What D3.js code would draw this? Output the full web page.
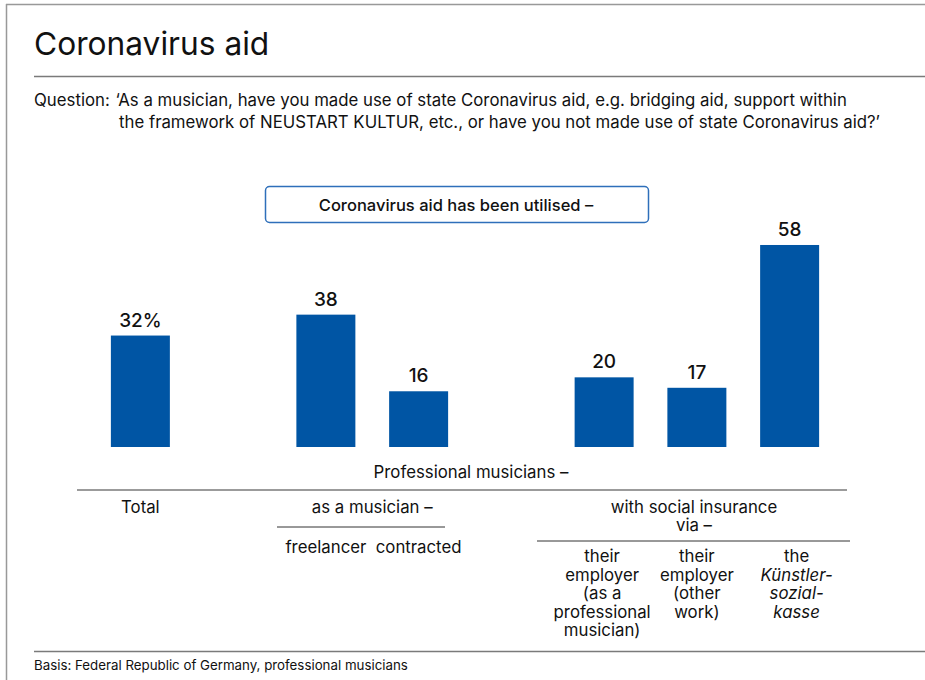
<!DOCTYPE html>
<html>
<head>
<meta charset="utf-8">
<script src="https://cdn.jsdelivr.net/npm/d3@7"></script>
<style>
  html, body { margin: 0; padding: 0; background: #fff; }
  svg { display: block; font-family: Inter, "Liberation Sans", Arial, sans-serif; }
</style>
</head>
<body>
<svg id="chart" width="925" height="680"></svg>
<script>
// ---- data ----
const title = "Coronavirus aid";
const questionLabel = "Question:";
const questionLines = [
  "\u2018As a musician, have you made use of state Coronavirus aid, e.g. bridging aid, support within",
  "the framework of NEUSTART KULTUR, etc., or have you not made use of state Coronavirus aid?\u2019"
];
const legendLabel = "Coronavirus aid has been utilised \u2013";
const categories = ["Total", "freelancer", "contracted", "employerPro", "employerOther", "ksk"];
const slots = [0, 2, 3, 5, 6, 7];
const values = [32, 38, 16, 20, 17, 58];
const valueLabels = ["32%", "38", "16", "20", "17", "58"];
const headerTop = "Professional musicians \u2013";
const groupMusician = "as a musician \u2013";
const groupInsurance = ["with social insurance", "via \u2013"];
const catLabels = [
  ["Total"],
  ["freelancer"],
  ["contracted"],
  ["their", "employer", "(as a", "professional", "musician)"],
  ["their", "employer", "(other", "work)"],
  ["the", "K\u00fcnstler-", "sozial-", "kasse"]
];
const italicFrom = [99, 99, 99, 99, 99, 1];
const footnote = "Basis: Federal Republic of Germany, professional musicians";

// ---- drawing ----
const svg = d3.select("#chart");
const W = 925, H = 680;
const textColor = "#111";
const barColor = "#0055a4";
const ruleColor = "#7a7a7a";
const fs = 16.8;

// frame
svg.append("line").attr("x1", 6).attr("x2", W).attr("y1", 4.5).attr("y2", 4.5)
  .attr("stroke", "#999").attr("stroke-width", 1.5);
svg.append("line").attr("x1", 6.5).attr("x2", 6.5).attr("y1", 4).attr("y2", H)
  .attr("stroke", "#999").attr("stroke-width", 1.5);

// title
svg.append("text").attr("x", 34).attr("y", 55).attr("font-size", 31.7)
  .attr("fill", textColor).text(title);
svg.append("line").attr("x1", 34).attr("x2", W).attr("y1", 76.5).attr("y2", 76.5)
  .attr("stroke", ruleColor).attr("stroke-width", 1.5);

// question
svg.append("text").attr("x", 34).attr("y", 106).attr("font-size", fs)
  .attr("fill", textColor).text(questionLabel);
const q = svg.append("text").attr("font-size", fs).attr("fill", textColor);
questionLines.forEach((l, i) => {
  q.append("tspan").attr("x", i === 0 ? 115.5 : 119).attr("y", 106 + i * 22).text(l);
});

// legend box
svg.append("rect").attr("x", 265.5).attr("y", 186.5).attr("width", 383).attr("height", 36)
  .attr("rx", 4).attr("fill", "#fff").attr("stroke", "#2e6fba").attr("stroke-width", 1.5);
svg.append("text").attr("x", 456).attr("y", 210.5).attr("text-anchor", "middle")
  .attr("font-size", 16.5).attr("font-weight", 500).attr("fill", textColor).text(legendLabel);

// scales
const x = d3.scaleBand().domain(d3.range(8)).range([94, 836])
  .paddingInner(0.364).paddingOuter(0.182);
const y = d3.scaleLinear().domain([0, 100]).range([447, 447 - 348.3]);

const g = svg.append("g");
g.selectAll("rect.bar").data(values).join("rect").attr("class", "bar")
  .attr("x", (d, i) => x(slots[i]))
  .attr("width", x.bandwidth())
  .attr("y", d => y(d))
  .attr("height", d => y(0) - y(d))
  .attr("fill", barColor);

g.selectAll("text.val").data(values).join("text").attr("class", "val")
  .attr("x", (d, i) => x(slots[i]) + x.bandwidth() / 2)
  .attr("y", d => y(d) - 9)
  .attr("text-anchor", "middle").attr("font-size", 19).attr("font-weight", 500)
  .attr("fill", textColor)
  .text((d, i) => valueLabels[i]);

const cx = i => x(slots[i]) + x.bandwidth() / 2;

// header structure
svg.append("text").attr("x", 471).attr("y", 478).attr("text-anchor", "middle")
  .attr("font-size", fs).attr("fill", textColor).text(headerTop);
svg.append("line").attr("x1", 77).attr("x2", 847).attr("y1", 490).attr("y2", 490)
  .attr("stroke", ruleColor).attr("stroke-width", 1.5);

svg.append("text").attr("x", (cx(1) + cx(2)) / 2).attr("y", 513).attr("text-anchor", "middle")
  .attr("font-size", fs).attr("fill", textColor).text(groupMusician);
svg.append("line").attr("x1", 277).attr("x2", 445).attr("y1", 527).attr("y2", 527)
  .attr("stroke", "#333").attr("stroke-width", 1);

const gi = svg.append("text").attr("text-anchor", "middle").attr("font-size", fs)
  .attr("fill", textColor);
groupInsurance.forEach((l, i) => {
  gi.append("tspan").attr("x", 694).attr("y", 512.5 + i * 18.5).text(l);
});
svg.append("line").attr("x1", 537).attr("x2", 850).attr("y1", 541).attr("y2", 541)
  .attr("stroke", "#333").attr("stroke-width", 1);

// category labels
catLabels.forEach((lines, i) => {
  const baseY = i === 0 ? 513 : (i < 3 ? 553 : 562);
  const t = svg.append("text").attr("text-anchor", "middle").attr("font-size", fs)
    .attr("fill", textColor);
  lines.forEach((l, j) => {
    t.append("tspan").attr("x", cx(i) + (i === 5 ? 7 : 0) - (i === 3 ? 2 : 0))
      .attr("y", baseY + j * 18.5)
      .attr("font-style", j >= italicFrom[i] ? "italic" : "normal")
      .text(l);
  });
});

// footer
svg.append("line").attr("x1", 34).attr("x2", W).attr("y1", 651.5).attr("y2", 651.5)
  .attr("stroke", ruleColor).attr("stroke-width", 1.5);
svg.append("text").attr("x", 34).attr("y", 670).attr("font-size", 13.3)
  .attr("fill", textColor).text(footnote);
</script>
</body>
</html>
